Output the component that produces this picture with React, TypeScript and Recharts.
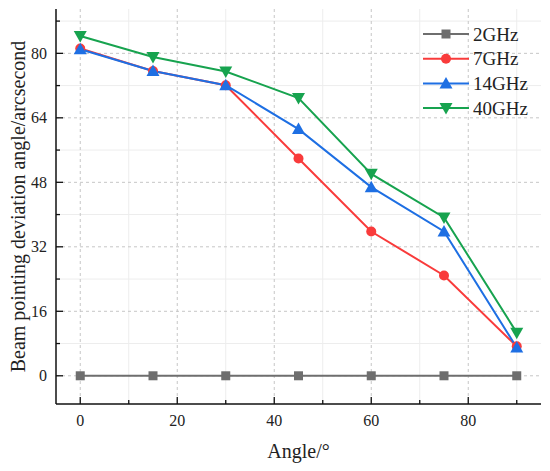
import { LineChart, Line, XAxis, YAxis, CartesianGrid, Legend } from 'recharts'

// angle of incidence (deg) and beam pointing deviation (arcsecond)
const angles = [0, 15, 30, 45, 60, 75, 90]
const ghz2 = [0, 0, 0, 0, 0, 0, 0]
const ghz7 = [81.2, 75.6, 72.1, 53.9, 35.8, 24.9, 7.3]
const ghz14 = [81.0, 75.6, 72.1, 61.2, 46.8, 35.8, 7.0]
const ghz40 = [84.3, 79.1, 75.5, 68.9, 50.1, 39.3, 10.7]

const xTicks = [0, 10, 20, 30, 40, 50, 60, 70, 80, 90]
const xMajor = [0, 20, 40, 60, 80]
const xMinor = [10, 30, 50, 70, 90]
const yTicks = [0, 8, 16, 24, 32, 40, 48, 56, 64, 72, 80, 88]
const yMajor = [0, 16, 32, 48, 64, 80]
const yMinor = [8, 24, 40, 56, 72, 88]

const data = angles.map((a, i) => ({ angle: a, g2: ghz2[i], g7: ghz7[i], g14: ghz14[i], g40: ghz40[i] }))

const series = [
  { key: 'g2', name: '2GHz', color: '#6e6e6e', shape: 'square' },
  { key: 'g7', name: '7GHz', color: '#f93b3b', shape: 'circle' },
  { key: 'g14', name: '14GHz', color: '#1e6fe3', shape: 'up' },
  { key: 'g40', name: '40GHz', color: '#17a34f', shape: 'down' },
]

const serif = '"Liberation Serif", "Times New Roman", serif'
const tickText = { fontFamily: serif, fontSize: 16, fill: '#222' }

function Marker({ shape, cx, cy, color }: any) {
  if (shape === 'square') return <rect x={cx - 4.5} y={cy - 4.5} width={9} height={9} fill={color} />
  if (shape === 'circle') return <circle cx={cx} cy={cy} r={5} fill={color} />
  if (shape === 'up')
    return <polygon points={`${cx},${cy - 6.5} ${cx + 6.5},${cy + 5} ${cx - 6.5},${cy + 5}`} fill={color} />
  return <polygon points={`${cx},${cy + 6.5} ${cx + 6.5},${cy - 5} ${cx - 6.5},${cy - 5}`} fill={color} />
}

function BottomTick({ x, y, payload }: any) {
  const major = xMajor.includes(payload.value)
  return (
    <g>
      <line x1={x} x2={x} y1={y} y2={y - (major ? 7 : 4)} stroke="#111" strokeWidth={1.3} />
      {major && <text x={x} y={y + 22} textAnchor="middle" {...tickText}>{payload.value}</text>}
    </g>
  )
}

function TopTick({ x, y, payload }: any) {
  const major = xMajor.includes(payload.value)
  return <line x1={x} x2={x} y1={y} y2={y + (major ? 7 : 4)} stroke="#111" strokeWidth={1.3} />
}

function LeftTick({ x, y, payload }: any) {
  const major = yMajor.includes(payload.value)
  return (
    <g>
      <line x1={x} x2={x + (major ? 7 : 4)} y1={y} y2={y} stroke="#111" strokeWidth={1.3} />
      {major && <text x={x - 9} y={y + 5.5} textAnchor="end" {...tickText}>{payload.value}</text>}
    </g>
  )
}

function RightTick({ x, y, payload }: any) {
  const major = yMajor.includes(payload.value)
  return <line x1={x} x2={x - (major ? 7 : 4)} y1={y} y2={y} stroke="#111" strokeWidth={1.3} />
}

function LegendBox() {
  return (
    <svg width={130} height={100}>
      {series.map((s, i) => {
        const cy = 13 + i * 24.7
        return (
          <g key={s.key}>
            <line x1={5} x2={51} y1={cy} y2={cy} stroke={s.color} strokeWidth={2} />
            <Marker shape={s.shape} cx={28} cy={cy} color={s.color} />
            <text x={55} y={cy + 6.5} fontFamily={serif} fontSize={19} fill="#222">{s.name}</text>
          </g>
        )
      })}
    </svg>
  )
}

export default function App() {
  const axisLine = { stroke: '#111', strokeWidth: 1.5 }
  return (
    <div style={{ position: 'absolute', left: 0, top: 0, background: '#fff' }}>
      <LineChart width={550} height={471} data={data} margin={{ top: 9, right: 9, left: 0, bottom: 0 }}>
        <CartesianGrid verticalValues={xMinor} horizontalValues={yMinor} stroke="#ededed" />
        <CartesianGrid verticalValues={xMajor} horizontalValues={yMajor} stroke="#c6c6c6" strokeDasharray="3 3" />
        <XAxis
          dataKey="angle"
          type="number"
          domain={[-5, 95]}
          ticks={xTicks}
          interval={0}
          height={67}
          tickSize={0}
          tickMargin={0}
          tickLine={false}
          axisLine={axisLine}
          tick={BottomTick}
          label={{
            content: ({ viewBox }: any) => (
              <text x={viewBox.x + viewBox.width / 2} y={viewBox.y + 54} textAnchor="middle" fontFamily={serif} fontSize={20} fill="#222">
                Angle/°
              </text>
            ),
          }}
        />
        <XAxis
          xAxisId="top"
          orientation="top"
          dataKey="angle"
          type="number"
          domain={[-5, 95]}
          ticks={xTicks}
          interval={0}
          height={0}
          tickSize={0}
          tickMargin={0}
          tickLine={false}
          axisLine={axisLine}
          tick={TopTick}
        />
        <YAxis
          type="number"
          domain={[-7, 91]}
          ticks={yTicks}
          interval={0}
          width={56}
          allowDataOverflow
          tickSize={0}
          tickMargin={0}
          tickLine={false}
          axisLine={axisLine}
          tick={LeftTick}
          label={{
            content: ({ viewBox }: any) => {
              const cx = 25
              const cy = viewBox.y + viewBox.height / 2
              return (
                <text x={cx} y={cy} transform={`rotate(-90, ${cx}, ${cy})`} textAnchor="middle" fontFamily={serif} fontSize={20} fill="#222">
                  Beam pointing deviation angle/arcsecond
                </text>
              )
            },
          }}
        />
        <YAxis
          yAxisId="right"
          orientation="right"
          type="number"
          domain={[-7, 91]}
          ticks={yTicks}
          interval={0}
          width={0}
          allowDataOverflow
          tickSize={0}
          tickMargin={0}
          tickLine={false}
          axisLine={axisLine}
          tick={RightTick}
        />
        <Legend
          layout="vertical"
          align="center"
          verticalAlign="middle"
          wrapperStyle={{ top: 21, left: 418, width: 130, height: 100 }}
          content={() => <LegendBox />}
        />
        {series.map(s => (
          <Line
            key={s.key}
            dataKey={s.key}
            name={s.name}
            stroke={s.color}
            strokeWidth={2}
            isAnimationActive={false}
            dot={(p: any) => <Marker key={`${s.key}-${p.index}`} shape={s.shape} cx={p.cx} cy={p.cy} color={s.color} />}
            activeDot={false}
          />
        ))}
      </LineChart>
    </div>
  )
}
